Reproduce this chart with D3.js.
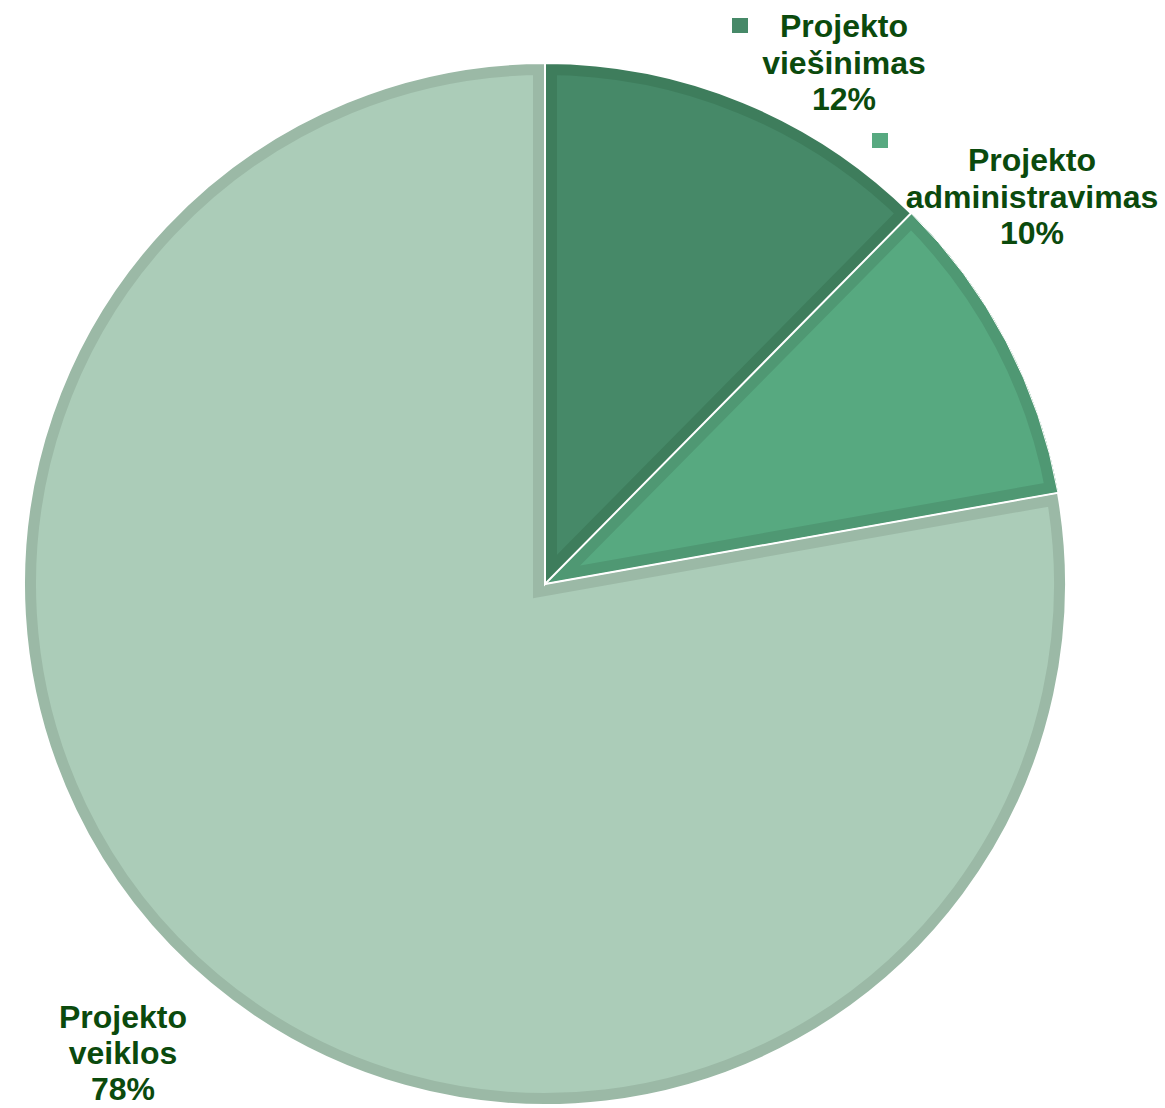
<!DOCTYPE html>
<html>
  <head>
    <meta charset="utf-8">
    <script src="https://d3js.org/d3.v7.min.js"></script>
    <title>Projekto išlaidos</title>
    <style>
      body { margin: 0; background: #fff; }
      .label {
        font-family: "Liberation Sans", Arial, sans-serif;
        font-weight: bold;
        font-size: 32px;
        fill: #0b4a0d;
      }
    </style>
  </head>
  <body>
    <div id="chart"></div>
    <script>
      // chart data
      const categories = ["Projekto viešinimas", "Projekto administravimas", "Projekto veiklos"];
      const values = [12.4, 9.8, 77.8];
      const fills = ["#468968", "#57a980", "#abccb8"];
      const bands = ["#3e7d5c", "#4f9873", "#9bb9a6"];

      const WIDTH = 1165;
      const HEIGHT = 1108;
      const CX = 545, CY = 584, R = 521;

      const svg = d3.select("#chart")
        .append("svg")
        .attr("width", WIDTH)
        .attr("height", HEIGHT);

      const pie = d3.pie().sort(null).value(d => d)(values);
      const arc = d3.arc().innerRadius(0).outerRadius(R);

      const g = svg.append("g").attr("transform", `translate(${CX},${CY})`);

      const defs = svg.append("defs");
      defs.selectAll("clipPath")
        .data(pie)
        .enter()
        .append("clipPath")
        .attr("id", (d, i) => "slice" + i)
        .append("path")
        .attr("d", arc);

      // slice fill
      g.selectAll(".slice")
        .data(pie)
        .enter()
        .append("path")
        .attr("class", "slice")
        .attr("d", arc)
        .attr("fill", (d, i) => fills[i]);

      // darker inner border of each slice
      g.selectAll(".band")
        .data(pie)
        .enter()
        .append("path")
        .attr("class", "band")
        .attr("d", arc)
        .attr("fill", "none")
        .attr("stroke", (d, i) => bands[i])
        .attr("stroke-width", 24)
        .attr("stroke-linejoin", "miter")
        .attr("clip-path", (d, i) => `url(#slice${i})`);

      // thin white outline
      g.selectAll(".edge")
        .data(pie)
        .enter()
        .append("path")
        .attr("class", "edge")
        .attr("d", arc)
        .attr("fill", "none")
        .attr("stroke", "#fff")
        .attr("stroke-width", (d, i) => i === 1 ? 1 : 2);

      // labels: [centre x, first baseline, line step, has marker]
      const labelPos = [[844, 37, 36.5, true], [1032, 171, 36.5, true], [123, 1028, 36, false]];
      const markerPos = [[732, 18], [872, 133]];

      pie.forEach((d, i) => {
        const [lx, ly, step, marker] = labelPos[i];
        const words = categories[i].split(" ");
        const lines = [words[0], words[1], Math.round(values[i]) + "%"];
        const t = svg.append("text")
          .attr("class", "label")
          .attr("text-anchor", "middle")
          .attr("x", lx)
          .attr("y", ly);
        lines.forEach((s, k) => {
          t.append("tspan")
            .attr("x", lx)
            .attr("y", ly + k * step)
            .text(s);
        });
        if (marker) {
          svg.append("rect")
            .attr("x", markerPos[i][0])
            .attr("y", markerPos[i][1])
            .attr("width", 16)
            .attr("height", 15)
            .attr("fill", fills[i]);
        }
      });
    </script>
  </body>
</html>
